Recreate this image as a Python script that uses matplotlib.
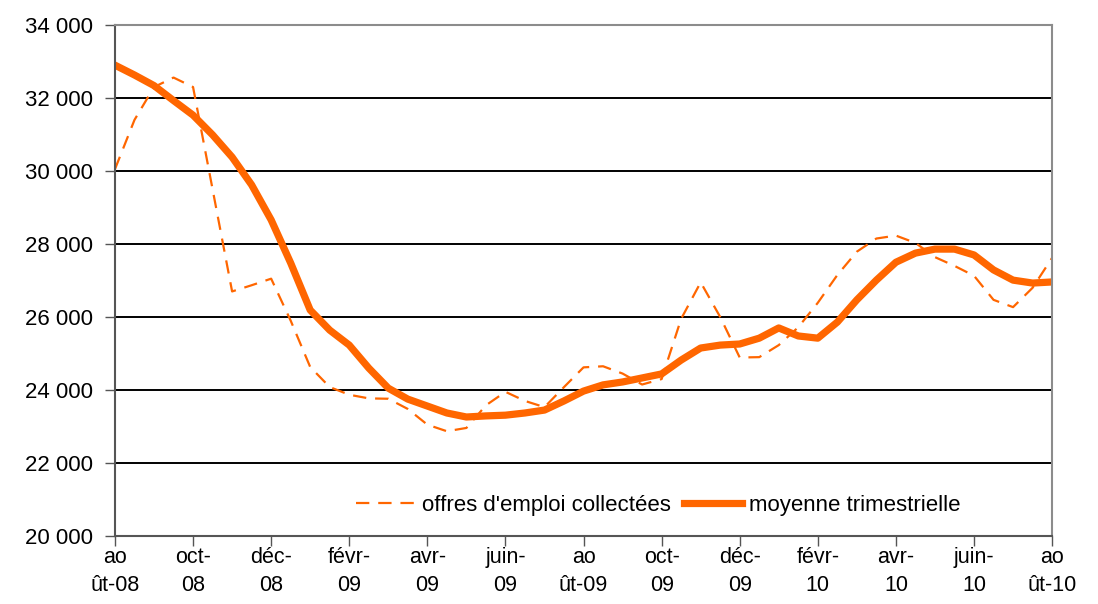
import numpy as np
import matplotlib
matplotlib.use("Agg")
import matplotlib.pyplot as plt

plt.rcParams['font.family'] = ['Liberation Sans', 'DejaVu Sans']

# ------------------------------------------------------------
# Données (lecture du graphique, pas d'un demi-mois)
# ------------------------------------------------------------
periodes = np.arange(49) * 0.5  # mois depuis août 2008

offres = [30050, 31400, 32300, 32560, 32300, 29500, 26700, 26870, 27050, 25900,
          24630, 24080, 23870, 23770, 23760, 23480, 23050, 22870, 22960, 23580,
          23950, 23700, 23530, 24080, 24620, 24650, 24450, 24150, 24300, 25950,
          26950, 26000, 24890, 24900, 25230, 25720, 26390, 27150, 27790, 28150,
          28230, 28030, 27640, 27400, 27130, 26470, 26270, 26800, 27620]

moyenne = [32900, 32630, 32340, 31930, 31530, 30990, 30380, 29620, 28660, 27480,
           26190, 25640, 25230, 24600, 24050, 23750, 23560, 23370, 23260, 23290,
           23310, 23370, 23450, 23700, 23970, 24140, 24220, 24330, 24440, 24820,
           25150, 25230, 25260, 25420, 25700, 25480, 25420, 25860, 26470, 27010,
           27500, 27750, 27860, 27860, 27700, 27290, 27010, 26930, 26960]

mois_ticks = list(range(0, 25, 2))
mois_labels = ["ao\nût-08", "oct-\n08", "déc-\n08", "févr-\n09", "avr-\n09",
               "juin-\n09", "ao\nût-09", "oct-\n09", "déc-\n09", "févr-\n10",
               "avr-\n10", "juin-\n10", "ao\nût-10"]

y_ticks = list(range(20000, 34001, 2000))

ORANGE = "#FF6600"

# ------------------------------------------------------------
# Graphique
# ------------------------------------------------------------
fig = plt.figure(figsize=(10.98, 6.04), dpi=100)
ax = fig.add_axes([0.1047, 0.1126, 0.8535, 0.846])

ax.plot(periodes, offres, color=ORANGE, linewidth=1.6, dashes=(6, 4),
        label="offres d'emploi collectées")
ax.plot(periodes, moyenne, color=ORANGE, linewidth=5.2,
        solid_joinstyle="round", label="moyenne trimestrielle")

ax.set_xlim(0, 24)
ax.set_ylim(20000, 34000)

ax.set_yticks(y_ticks)
ax.set_yticklabels([f"{v:,}".replace(",", " ") for v in y_ticks], fontsize=16)
ax.set_xticks(mois_ticks)
ax.set_xticklabels(mois_labels, fontsize=15.5, linespacing=1.45)

ax.tick_params(axis="both", direction="out", length=7, width=1, color="#555555")
ax.tick_params(axis="x", pad=1)
ax.tick_params(axis="y", pad=9)

for v in y_ticks[1:]:
    ax.axhline(v, color="#000000", linewidth=1.4, zorder=0)

for side in ["left", "bottom"]:
    ax.spines[side].set_color("#555555")
    ax.spines[side].set_linewidth(1.5)
for side in ["top", "right"]:
    ax.spines[side].set_color("#8c8c8c")
    ax.spines[side].set_linewidth(1.5)

ax.legend(loc="center", bbox_to_anchor=(0.58, 0.06), ncol=2, frameon=False,
          fontsize=16, handlelength=2.6, handletextpad=0.35, columnspacing=0.6)

fig.savefig("out.png", dpi=100)
